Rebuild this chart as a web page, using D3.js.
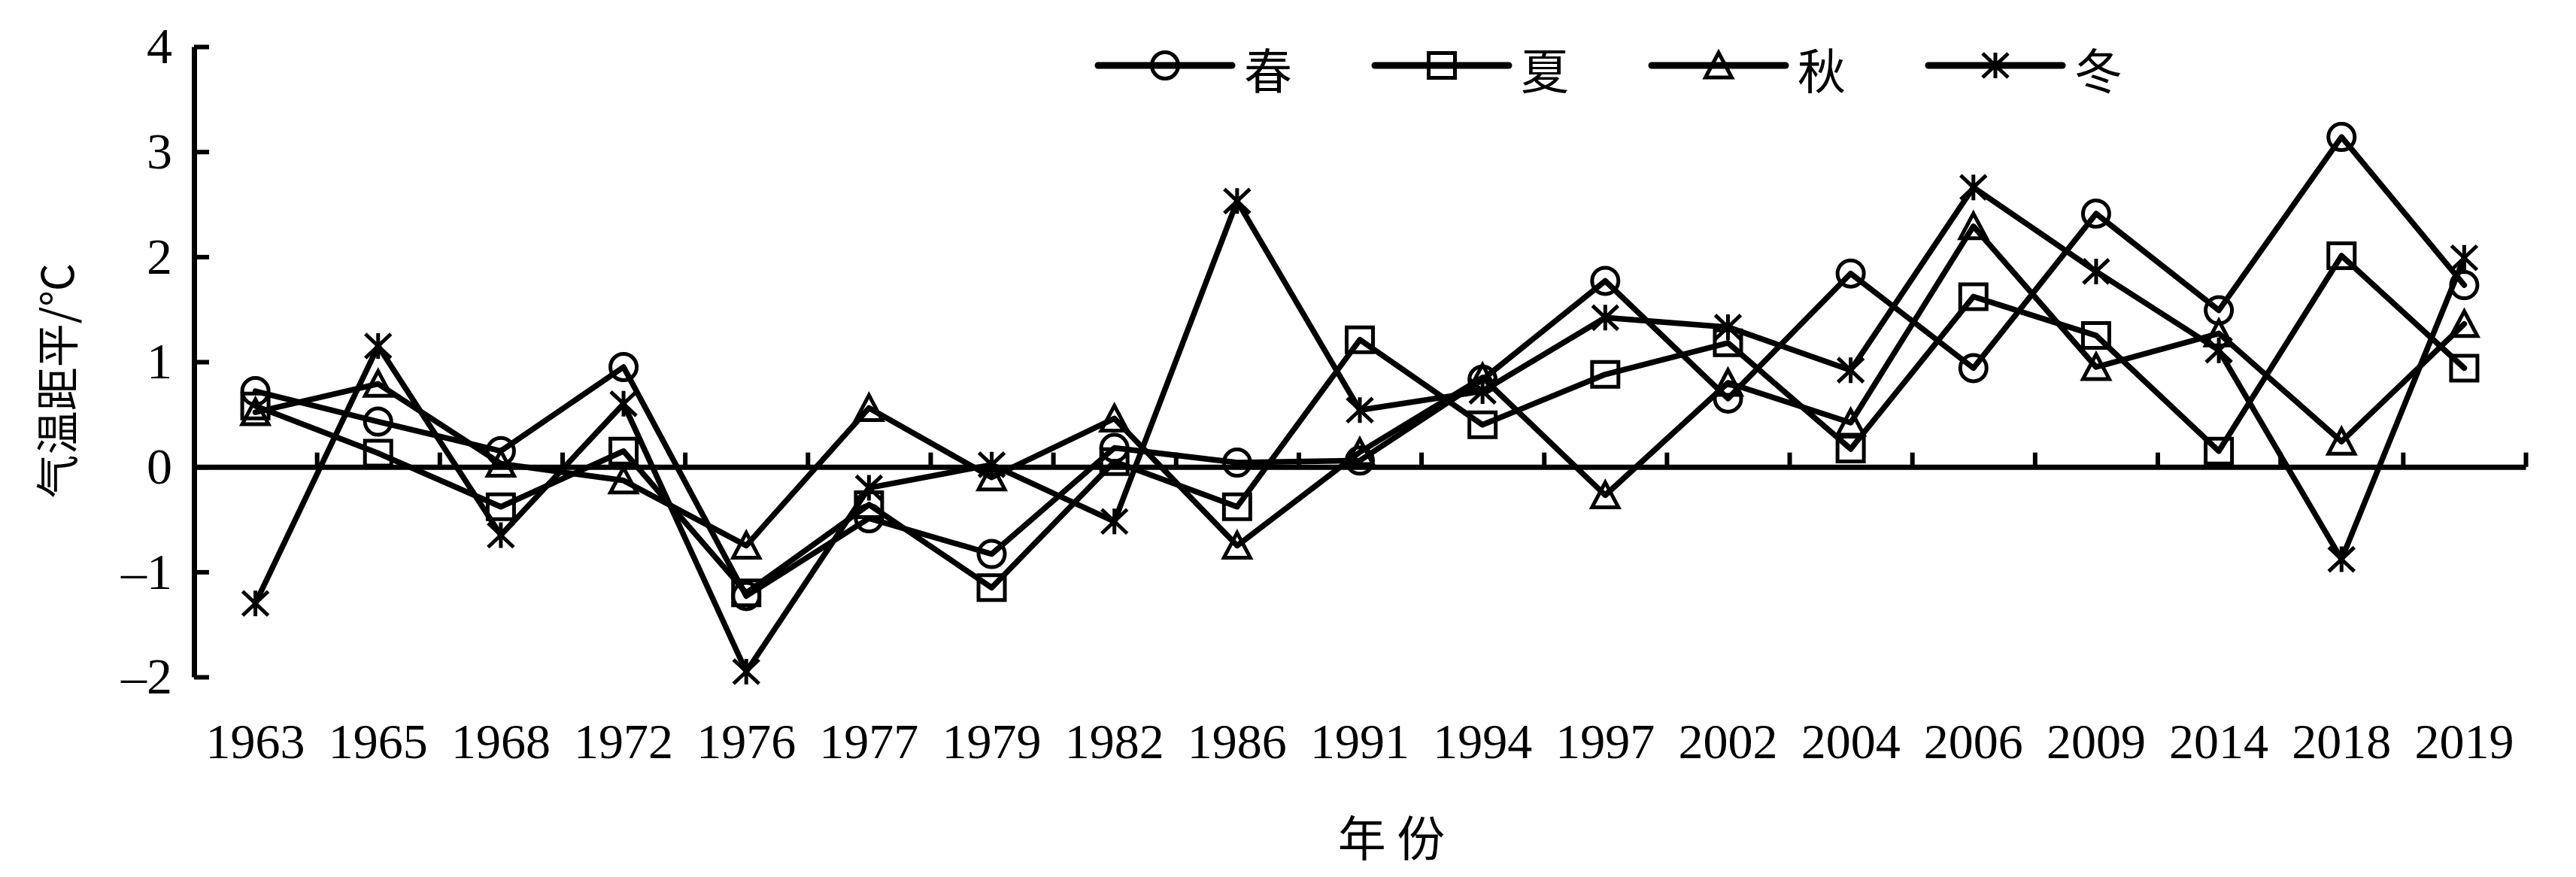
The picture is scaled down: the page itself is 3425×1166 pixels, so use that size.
<!DOCTYPE html>
<html>
<head>
<meta charset="utf-8">
<script src="https://cdn.jsdelivr.net/npm/d3@7"></script>
<style>
  html, body { margin: 0; padding: 0; background: #fff; }
  svg { display: block; }
</style>
</head>
<body>
<svg id="chart" width="3425" height="1166"></svg>
<script>
// ---------------- data ----------------
const years = ["1963","1965","1968","1972","1976","1977","1979","1982","1986","1991",
               "1994","1997","2002","2004","2006","2009","2014","2018","2019"];
const spring = [0.72, 0.43, 0.15, 0.95, -1.23, -0.49, -0.83, 0.18, 0.04, 0.06,
                0.83, 1.77, 0.65, 1.84, 0.94, 2.41, 1.49, 3.14, 1.73];
const summer = [0.58, 0.13, -0.38, 0.15, -1.20, -0.36, -1.15, 0.05, -0.38, 1.21,
                0.40, 0.88, 1.18, 0.17, 1.62, 1.25, 0.15, 2.01, 0.94];
const autumn = [0.52, 0.79, 0.03, -0.13, -0.75, 0.56, -0.10, 0.46, -0.75, 0.14,
                0.85, -0.27, 0.80, 0.42, 2.29, 0.95, 1.27, 0.24, 1.36];
const winter = [-1.30, 1.15, -0.65, 0.60, -1.95, -0.20, 0.02, -0.52, 2.53, 0.54,
                0.72, 1.42, 1.33, 0.92, 2.66, 1.86, 1.11, -0.88, 1.99];
const seriesNames = ["春", "夏", "秋", "冬"];
const yTicks = [-2, -1, 0, 1, 2, 3, 4];
const yTitle = "气温距平/℃";
const xTitle = "年 份";

// ---------------- layout ----------------
const svg = d3.select("#chart");
const serif = "'Liberation Serif', 'Times New Roman', serif";
const cjk = "'Noto Sans CJK SC', 'Noto Sans', sans-serif";

const x0 = 258, x1 = 3358;
const x = d3.scaleBand().domain(years).range([x0, x1]).padding(0);
const xb = d3.scaleLinear().domain([0, years.length]).range([x0, x1]);
const y = d3.scaleLinear().domain([-2, 4]).range([900, 62]);

const cx = d => x(d) + x.bandwidth() / 2;

// marker shapes
const markerPath = {
  circle: "M-17.5,0a17.5,17.5 0 1,0 35,0a17.5,17.5 0 1,0 -35,0Z",
  square: "M-17.5,-16.5H17.5V16.5H-17.5Z",
  triangle: "M0,-17L17.5,16H-17.5Z",
  star: "M-17,-16L17,16M-17,16L17,-16M0,-17V17"
};
const series = [
  { name: seriesNames[0], values: spring, marker: "circle" },
  { name: seriesNames[1], values: summer, marker: "square" },
  { name: seriesNames[2], values: autumn, marker: "triangle" },
  { name: seriesNames[3], values: winter, marker: "star" }
];

// ---------------- axes ----------------
// y axis
const yAxis = svg.append("g")
  .attr("transform", `translate(${x0},0)`)
  .call(d3.axisLeft(y).tickValues(yTicks).tickSize(-20).tickSizeOuter(0).tickPadding(29)
        .tickFormat(d => d < 0 ? "\u2013" + Math.abs(d) : String(d)));
yAxis.select(".domain").attr("stroke", "#000").attr("stroke-width", 7);
yAxis.selectAll(".tick line").attr("stroke", "#000").attr("stroke-width", 6);
yAxis.selectAll(".tick text")
  .attr("font-family", serif).attr("font-size", 68).attr("fill", "#000");

// x axis on zero line with boundary ticks pointing up
const xAxis = svg.append("g")
  .attr("transform", `translate(0,${y(0)})`)
  .call(d3.axisBottom(xb).tickValues(d3.range(1, years.length + 1)).tickSize(-19)
        .tickSizeOuter(0).tickFormat(""));
xAxis.select(".domain").attr("stroke", "#000").attr("stroke-width", 7);
xAxis.selectAll(".tick line").attr("stroke", "#000").attr("stroke-width", 6);

// x category labels at bottom
const xLab = svg.append("g")
  .attr("transform", `translate(0,1008)`)
  .call(d3.axisBottom(x).tickSize(0).tickPadding(0));
xLab.select(".domain").remove();
xLab.selectAll(".tick text")
  .attr("y", 0).attr("dy", 0)
  .attr("font-family", serif).attr("font-size", 66).attr("fill", "#000");

// titles
svg.append("text")
  .attr("transform", "translate(73,506) rotate(-90)")
  .attr("text-anchor", "middle").attr("dominant-baseline", "central")
  .attr("font-family", cjk).attr("font-size", 58).attr("fill", "#000")
  .text(yTitle);
svg.append("text")
  .attr("x", 1850).attr("y", 1110)
  .attr("text-anchor", "middle").attr("dominant-baseline", "central")
  .attr("font-family", cjk).attr("font-size", 64).attr("fill", "#000")
  .attr("xml:space", "preserve")
  .text(xTitle);

// ---------------- series ----------------
const line = d3.line().x((d, i) => cx(years[i])).y(d => y(d));
const plot = svg.append("g");
series.forEach(s => {
  plot.append("path")
    .attr("d", line(s.values))
    .attr("fill", "none").attr("stroke", "#000").attr("stroke-width", 7.5)
    .attr("stroke-linejoin", "round").attr("stroke-linecap", "round");
});
series.forEach(s => {
  plot.selectAll(null).data(s.values).enter().append("path")
    .attr("transform", (d, i) => `translate(${cx(years[i])},${y(d)})`)
    .attr("d", markerPath[s.marker])
    .attr("fill", "none").attr("stroke", "#000").attr("stroke-width", 5)
    .attr("stroke-linejoin", "miter");
});

// ---------------- legend ----------------
const legend = svg.append("g");
series.forEach((s, i) => {
  const lx = 1460 + i * 368, ly = 87;
  const g = legend.append("g");
  g.append("line").attr("x1", lx).attr("x2", lx + 178).attr("y1", ly).attr("y2", ly)
    .attr("stroke", "#000").attr("stroke-width", 9).attr("stroke-linecap", "round");
  g.append("path").attr("transform", `translate(${lx + 89},${ly})`)
    .attr("d", markerPath[s.marker])
    .attr("fill", "none").attr("stroke", "#000").attr("stroke-width", 5);
  g.append("text").attr("x", lx + 194).attr("y", ly + 3)
    .attr("dominant-baseline", "central")
    .attr("font-family", cjk).attr("font-size", 64).attr("fill", "#000")
    .text(s.name);
});
</script>
</body>
</html>
